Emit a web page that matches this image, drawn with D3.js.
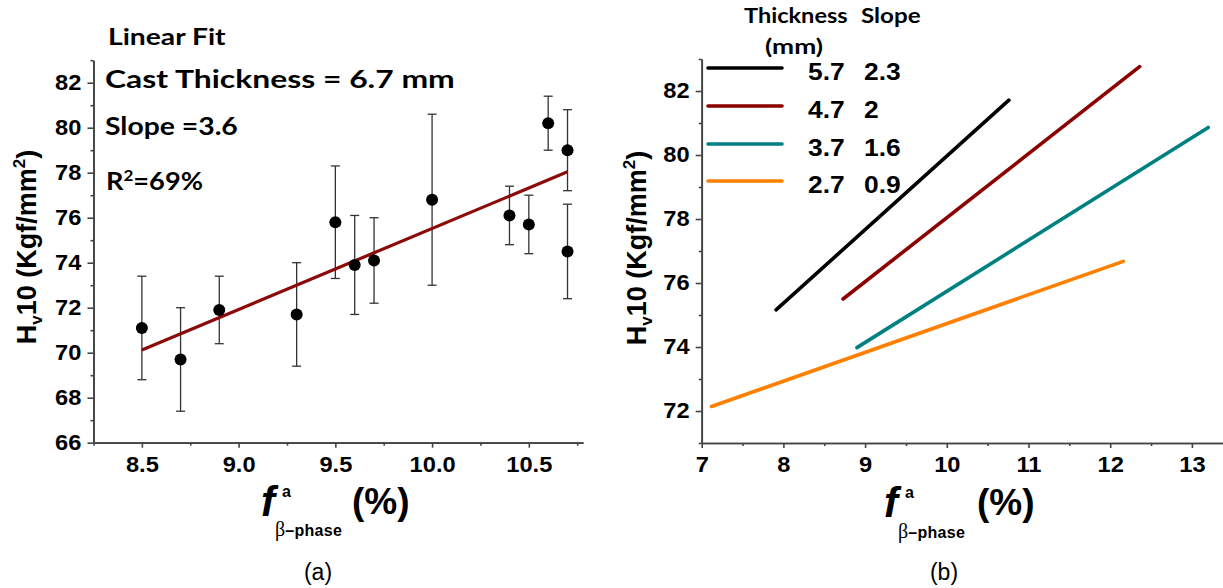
<!DOCTYPE html>
<html>
<head>
<meta charset="utf-8">
<script src="https://cdn.jsdelivr.net/npm/d3@7"></script>
<style>
  html, body { margin: 0; padding: 0; background: #fff; }
  svg { display: block; }
</style>
</head>
<body>
<svg id="chart" width="1223" height="588"></svg>
<script>
// ---- Panel (a): hardness vs beta-phase fraction, cast thickness 6.7 mm ----
const betaFraction = [8.5, 8.7, 8.9, 9.3, 9.5, 9.6, 9.7, 10.0, 10.4, 10.5, 10.6, 10.7, 10.7];
const hardness     = [71.1, 69.7, 71.9, 71.7, 75.8, 73.9, 74.1, 76.8, 76.1, 75.7, 80.2, 79.0, 74.5];
const hardnessErr  = [2.3, 2.3, 1.5, 2.3, 2.5, 2.2, 1.9, 3.8, 1.3, 1.3, 1.2, 1.8, 2.1];
const fitRangeA = [8.5, 10.7];   // x extent of the linear fit
const fitSlopeA = 3.6;           // slope of the linear fit
const fitCentreA = 74.08;        // fitted hardness at the centre of the range
const xTicksA = [8.5, 9.0, 9.5, 10.0, 10.5];
const yTicksA = [66, 68, 70, 72, 74, 76, 78, 80, 82];

// ---- Panel (b): linear fits for four cast thicknesses ----
const thickness = ["5.7", "4.7", "3.7", "2.7"];
const slopes    = [2.3, 2, 1.6, 0.9];
const fitFrom   = [7.91, 8.73, 8.90, 7.12];
const fitTo     = [10.76, 12.36, 13.20, 12.16];
const fitStart  = [75.16, 75.50, 73.98, 72.14];   // hardness at the first point of each fit
const xTicksB = [7, 8, 9, 10, 11, 12, 13];
const yTicksB = [72, 74, 76, 78, 80, 82];

const SANS = "'Liberation Sans', Arial, sans-serif";
const SERIF = "'Liberation Serif', 'Times New Roman', serif";
const HUMAN = "Lato, 'Open Sans', sans-serif";
const AXIS_COLOR = "#444";
const WIDEN = 1.1;   // lettering is set slightly wide
const fitColors = ["#000000", "#8b0000", "#008080", "#ff8000"];

const svg = d3.select("#chart");

// Scale a text element horizontally so it spans the requested width.
function fitWidth(sel, width) {
  const w = sel.node().getBBox().width;
  const x = +sel.attr("x") || 0, y = +sel.attr("y") || 0;
  sel.attr("transform", `translate(${x},${y}) scale(${width / w},1) translate(${-x},${-y})`);
  return sel;
}

function styleAxis(g) {
  g.select(".domain").attr("stroke", AXIS_COLOR).attr("stroke-width", 1.7);
  g.selectAll(".tick line").attr("stroke", AXIS_COLOR).attr("stroke-width", 1.6);
  g.selectAll(".tick text")
    .attr("fill", "#000")
    .attr("font-family", SANS)
    .attr("font-weight", "bold")
    .attr("font-size", 21.5)
    .attr("transform", `scale(${WIDEN},1)`);
}

function drawAxes(x, y, xMajor, xMinor, yMajor, yMinor, xFmt) {
  const y0 = y.range()[0], x0 = x.range()[0];
  svg.append("g").attr("transform", `translate(0,${y0})`)
    .call(d3.axisBottom(x).tickValues(xMinor).tickSize(3).tickSizeOuter(0).tickFormat(""))
    .call(styleAxis);
  svg.append("g").attr("transform", `translate(0,${y0})`)
    .call(d3.axisBottom(x).tickValues(xMajor).tickSize(5).tickPadding(9).tickSizeOuter(0).tickFormat(xFmt))
    .call(styleAxis);
  svg.append("g").attr("transform", `translate(${x0},0)`)
    .call(d3.axisLeft(y).tickValues(yMinor).tickSize(3).tickSizeOuter(0).tickFormat(""))
    .call(styleAxis);
  svg.append("g").attr("transform", `translate(${x0},0)`)
    .call(d3.axisLeft(y).tickValues(yMajor).tickSize(6).tickPadding(5).tickSizeOuter(0).tickFormat(d3.format("d")))
    .call(styleAxis);
}

function yTitle(cx, cy) {
  const t = svg.append("text")
    .attr("transform", `translate(${cx},${cy}) rotate(-90)`)
    .attr("text-anchor", "middle")
    .attr("font-family", SANS).attr("font-weight", "bold").attr("font-size", 27)
    .attr("fill", "#000");
  t.append("tspan").text("H");
  t.append("tspan").attr("font-size", 17).attr("dy", 6).text("v");
  t.append("tspan").attr("dy", -6).text("10 (Kgf/mm");
  t.append("tspan").attr("font-size", 17).attr("dy", -11).text("2");
  t.append("tspan").attr("dy", 11).text(")");
}

// f^a with subscript "β-phase", followed by (%)
function xTitle(fx, pctX, base, subBase) {
  const g = svg.append("g").attr("font-family", SANS).attr("font-weight", "bold").attr("fill", "#000");
  g.append("text").attr("x", fx).attr("y", base)
    .attr("font-style", "italic").attr("font-size", 42).text("f");
  g.append("text").attr("x", fx + 21).attr("y", base - 19).attr("font-size", 16).text("a");
  const sub = g.append("text").attr("x", fx + 14).attr("y", subBase);
  sub.append("tspan").attr("font-family", SERIF).attr("font-weight", "normal").attr("font-size", 20).text("β");
  sub.append("tspan").attr("font-size", 16).attr("letter-spacing", 0.3).text("–phase");
  g.append("text").attr("x", pctX).attr("y", base - 2).attr("font-size", 37).text("(%)");
}

// =================== Panel (a) ===================
const xA = d3.scaleLinear().domain([8.25, 10.78]).range([93.5, 583]);
const yA = d3.scaleLinear().domain([66, 83]).range([442.7, 60.2]);

drawAxes(xA, yA, xTicksA, d3.range(8.25, 10.8, 0.5), yTicksA, d3.range(67, 84, 2), d3.format(".1f"));

// error bars
const eb = svg.append("g").attr("stroke", "#333").attr("stroke-width", 1.3);
betaFraction.forEach((b, i) => {
  const cx = xA(b), lo = yA(hardness[i] - hardnessErr[i]), hi = yA(hardness[i] + hardnessErr[i]);
  eb.append("line").attr("x1", cx).attr("x2", cx).attr("y1", lo).attr("y2", hi);
  eb.append("line").attr("x1", cx - 4.5).attr("x2", cx + 4.5).attr("y1", lo).attr("y2", lo);
  eb.append("line").attr("x1", cx - 4.5).attr("x2", cx + 4.5).attr("y1", hi).attr("y2", hi);
});

// fitted line
const midA = (fitRangeA[0] + fitRangeA[1]) / 2;
svg.append("path")
  .datum(fitRangeA)
  .attr("d", d3.line().x(d => xA(d)).y(d => yA(fitCentreA + fitSlopeA * (d - midA))))
  .attr("stroke", "#8b0a0a").attr("stroke-width", 3.2).attr("fill", "none");

// data points
svg.append("g").selectAll("circle").data(betaFraction).join("circle")
  .attr("cx", d => xA(d)).attr("cy", (d, i) => yA(hardness[i])).attr("r", 6).attr("fill", "#000");

// annotations
fitWidth(svg.append("text").attr("x", 108).attr("y", 45)
  .attr("font-family", HUMAN).attr("font-weight", "bold").attr("font-size", 23.5).text("Linear Fit"), 118);
fitWidth(svg.append("text").attr("x", 105).attr("y", 88)
  .attr("font-family", HUMAN).attr("font-weight", "bold").attr("font-size", 24).text("Cast Thickness = 6.7 mm"), 350);
fitWidth(svg.append("text").attr("x", 105).attr("y", 135)
  .attr("font-family", HUMAN).attr("font-weight", "bold").attr("font-size", 24).text("Slope =3.6"), 133);
const r2 = svg.append("text").attr("x", 106).attr("y", 190)
  .attr("font-family", HUMAN).attr("font-weight", "bold").attr("font-size", 24);
r2.append("tspan").text("R");
r2.append("tspan").attr("font-size", 15).attr("dy", -9).text("2");
r2.append("tspan").attr("dy", 9).text("=69%");
fitWidth(r2, 97);

yTitle(36, 247);
xTitle(261, 352, 516, 536);
svg.append("text").attr("x", 318).attr("y", 580).attr("text-anchor", "middle")
  .attr("font-family", SANS).attr("font-size", 23).text("(a)");

// =================== Panel (b) ===================
const xB = d3.scaleLinear().domain([7, 13.4]).range([701.7, 701.7 + 6.4 * 81.7]);
const yB = d3.scaleLinear().domain([71, 83]).range([443, 59]);

drawAxes(xB, yB, xTicksB, d3.range(7.5, 13.5, 1), yTicksB, d3.range(71, 84, 2), d3.format("d"));

// fitted lines, each drawn from its first point with the tabulated slope
slopes.forEach((s, i) => {
  svg.append("path")
    .datum([fitFrom[i], fitTo[i]])
    .attr("d", d3.line().x(d => xB(d)).y(d => yB(fitStart[i] + s * (d - fitFrom[i]))))
    .attr("stroke", fitColors[i]).attr("stroke-width", 3.6).attr("fill", "none")
    .attr("stroke-linecap", "round");
});

// legend table
fitWidth(svg.append("text").attr("x", 744).attr("y", 23)
  .attr("font-family", HUMAN).attr("font-weight", "bold").attr("font-size", 20).text("Thickness"), 104);
fitWidth(svg.append("text").attr("x", 861).attr("y", 23)
  .attr("font-family", HUMAN).attr("font-weight", "bold").attr("font-size", 20).text("Slope"), 60);
fitWidth(svg.append("text").attr("x", 765).attr("y", 54)
  .attr("font-family", HUMAN).attr("font-weight", "bold").attr("font-size", 20).text("(mm)"), 58);

const rowY = [68, 106, 144, 181];
thickness.forEach((t, i) => {
  svg.append("line").attr("x1", 708).attr("x2", 782).attr("y1", rowY[i]).attr("y2", rowY[i])
    .attr("stroke", fitColors[i]).attr("stroke-width", 3.6).attr("stroke-linecap", "round");
  svg.append("text").attr("x", 808).attr("y", rowY[i] + 12)
    .attr("font-family", SANS).attr("font-weight", "bold").attr("font-size", 24)
    .attr("transform", `translate(808,0) scale(${WIDEN},1) translate(-808,0)`).text(t);
  svg.append("text").attr("x", 864).attr("y", rowY[i] + 12)
    .attr("font-family", SANS).attr("font-weight", "bold").attr("font-size", 24)
    .attr("transform", `translate(864,0) scale(${WIDEN},1) translate(-864,0)`).text(slopes[i]);
});

yTitle(646, 248);
xTitle(884, 977, 517, 538);
svg.append("text").attr("x", 944).attr("y", 580).attr("text-anchor", "middle")
  .attr("font-family", SANS).attr("font-size", 23).text("(b)");
</script>
</body>
</html>
